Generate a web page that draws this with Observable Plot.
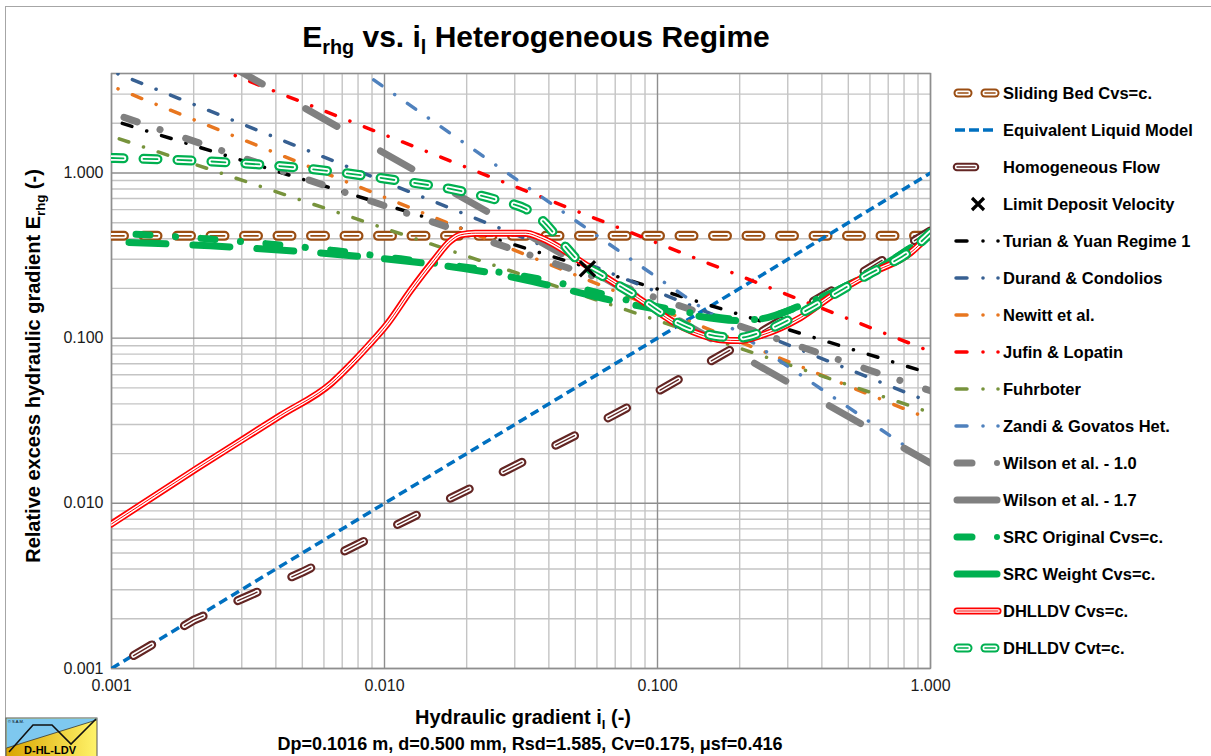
<!DOCTYPE html>
<html><head><meta charset="utf-8">
<script src="https://cdn.jsdelivr.net/npm/d3@7"></script>
<script src="https://cdn.jsdelivr.net/npm/@observablehq/plot@0.6"></script>
<style>
html,body{margin:0;padding:0;background:#fff;}
body{width:1211px;height:756px;overflow:hidden;position:relative;font-family:"Liberation Sans",Arial,sans-serif;color:#000;}
#border{position:absolute;left:5px;top:6px;width:1300px;height:800px;border:1.3px solid #a6a6a6;}
#chart{position:absolute;left:0;top:0;}
.lbl{position:absolute;font-weight:bold;white-space:nowrap;line-height:1;}
.title{left:0;width:1072px;top:22px;text-align:center;font-size:30px;}
.ylab{left:33px;top:366px;transform:translate(-50%,-50%) rotate(-90deg);font-size:20px;}
.xlab{left:523px;top:707px;transform:translateX(-50%);font-size:20px;}
.sub{left:530px;top:735px;transform:translateX(-50%);font-size:18px;}
sub{font-size:0.66em;vertical-align:-0.35em;line-height:0;}
#legend{position:absolute;left:0;top:0;}
</style>
</head><body>
<div id="border"></div>
<div id="chart"></div>
<div class="lbl title">E<sub>rhg</sub> vs. i<sub>l</sub> Heterogeneous Regime</div>
<div class="lbl ylab">Relative excess hydraulic gradient E<sub>rhg</sub> (-)</div>
<div class="lbl xlab">Hydraulic gradient i<sub>l</sub> (-)</div>
<div class="lbl sub">Dp=0.1016 m, d=0.500 mm, Rsd=1.585, Cv=0.175, μsf=0.416</div>
<script>
// ---------- tick values ----------
const xMajor = [0.001, 0.01, 0.1, 1];
const yMajor = [0.001, 0.01, 0.1, 1];
const xMinor = [0.002,0.003,0.004,0.005,0.006,0.007,0.008,0.009,0.02,0.03,0.04,0.05,0.06,0.07,0.08,0.09,0.2,0.3,0.4,0.5,0.6,0.7,0.8,0.9];
const yMinor = [0.002,0.003,0.004,0.005,0.006,0.007,0.008,0.009,0.02,0.03,0.04,0.05,0.06,0.07,0.08,0.09,0.2,0.3,0.4,0.5,0.6,0.7,0.8,0.9,2,3,4];

// ---------- series data ----------
const slidingX = [0.001, 1];
const slidingY = [0.416, 0.416];
const eqLiqX = [0.001, 1];
const eqLiqY = [0.001, 1];
const homX = [0.001, 0.002, 0.005, 0.01, 0.02, 0.05, 0.1, 0.2, 0.5, 1];
const homY = [0.001, 0.00196, 0.00383, 0.0068, 0.012, 0.0258, 0.0475, 0.0914, 0.222, 0.446];
const ldvX = [0.0554];
const ldvY = [0.263];
const turianX = [0.001, 1];
const turianY = [2.09, 0.061];
const durandX = [0.001, 1];
const durandY = [4.13, 0.0408];
const newittX = [0.001, 1];
const newittY = [3.35, 0.0322];
const jufinX = [0.001, 1];
const jufinY = [7.7, 0.083];
const fuhrX = [0.001, 1];
const fuhrY = [1.67, 0.0354];
const zandiX = [0.008, 0.1, 1];
const zandiY = [4.26, 0.232, 0.0175];
const wil10X = [0.001, 1];
const wil10Y = [2.3, 0.048];
const wil17X = [0.001, 1];
const wil17Y = [11.4, 0.0175];
const srcOrigX = [0.001, 0.00225, 0.00667, 0.01145, 0.02445, 0.0434, 0.0738, 0.1245, 0.2154, 0.2424, 0.334, 0.509, 0.714, 1.0];
const srcOrigY = [0.434, 0.399, 0.338, 0.302, 0.2557, 0.2164, 0.1732, 0.1446, 0.1294, 0.1312, 0.1572, 0.2135, 0.294, 0.428];
const srcWX = [0.001, 0.0023, 0.0069, 0.0117, 0.02445, 0.0406, 0.069, 0.1245, 0.201, 0.2424, 0.334, 0.509, 0.714, 1.0];
const srcWY = [0.383, 0.362, 0.320, 0.294, 0.2487, 0.2076, 0.1685, 0.1406, 0.1276, 0.1312, 0.1572, 0.2135, 0.294, 0.428];
const cvsX = [0.001, 0.00207, 0.00416, 0.0064, 0.0075, 0.00867, 0.01026, 0.01245, 0.01512, 0.01745, 0.019, 0.0215, 0.0329, 0.0373, 0.0568, 0.0845, 0.1245, 0.1474, 0.170, 0.201, 0.238, 0.334, 0.441, 0.588, 0.845, 1.0];
const cvsY = [0.0075, 0.0164, 0.0340, 0.0535, 0.0690, 0.0890, 0.1224, 0.1936, 0.294, 0.388, 0.422, 0.432, 0.432, 0.405, 0.2667, 0.1757, 0.1157, 0.1035, 0.0979, 0.0966, 0.1035, 0.1330, 0.1831, 0.2418, 0.329, 0.428];
const cvtX = [0.001, 0.00212, 0.00492, 0.01145, 0.01745, 0.0266, 0.0329, 0.0373, 0.0441, 0.0522, 0.0618, 0.0845, 0.1245, 0.170, 0.201, 0.238, 0.334, 0.441, 0.588, 0.845, 1.0];
const cvtY = [1.232, 1.182, 1.072, 0.895, 0.800, 0.677, 0.606, 0.527, 0.388, 0.286, 0.2418, 0.1781, 0.1190, 0.1021, 0.1007, 0.1080, 0.1406, 0.1831, 0.2418, 0.338, 0.434];

const legendNames = ["Sliding Bed Cvs=c.", "Equivalent Liquid Model", "Homogeneous Flow", "Limit Deposit Velocity",
  "Turian & Yuan Regime 1", "Durand & Condolios", "Newitt et al.", "Jufin & Lopatin", "Fuhrboter",
  "Zandi & Govatos Het.", "Wilson et al. - 1.0", "Wilson et al. - 1.7", "SRC Original Cvs=c.",
  "SRC Weight Cvs=c.", "DHLLDV Cvs=c.", "DHLLDV Cvt=c."];

// ---------- styles ----------
const C = {
  brown: "#9a4d12", eq: "#0070c0", hom: "#632523", black: "#000", durand: "#376092",
  newitt: "#e8761f", red: "#ff0000", fuhr: "#77933c", zandi: "#4f81bd", gray: "#808080", green: "#00b050"
};
const dashDot = "10,15.5,0.1,15.5";

function pts(xs, ys) { return xs.map((x, i) => ({x, y: ys[i]})); }
function line(data, stroke, w, dash, off = 0, cap = "round", curve = "linear") {
  return Plot.line(data, {x: "x", y: "y", stroke, strokeWidth: w, strokeDasharray: dash, strokeDashoffset: off,
    strokeLinecap: cap, strokeLinejoin: "round", curve, clip: true});
}
function triple(data, color, w1, w2, w3, dash, off = 0, curve = "linear") {
  return [line(data, color, w1, dash, off, "round", curve), line(data, "#fff", w2, dash, off, "round", curve), line(data, color, w3, dash, off, "round", curve)];
}

const fmt = d3.format(".3f");
const plot = Plot.plot({
  width: 1211, height: 756,
  marginLeft: 111, marginRight: 281, marginTop: 73, marginBottom: 88,
  x: {type: "log", domain: [0.001, 1]},
  y: {type: "log", domain: [0.001, 4]},
  style: {fontFamily: "Liberation Sans, Arial, sans-serif", fontSize: "16px", color: "#1a1a1a", background: "transparent", overflow: "visible"},
  marks: [
    Plot.ruleX(xMinor, {stroke: "#c4c4c4", strokeWidth: 1.4}),
    Plot.ruleY(yMinor, {stroke: "#c4c4c4", strokeWidth: 1.4}),
    Plot.ruleX(xMajor, {stroke: "#8e8e8e", strokeWidth: 1.4}),
    Plot.ruleY(yMajor, {stroke: "#8e8e8e", strokeWidth: 1.4}),
    Plot.frame({stroke: "#8e8e8e", strokeWidth: 1.4}),
    Plot.axisX({ticks: xMajor, tickFormat: fmt, tickSize: 0, tickPadding: 11, label: null, fontSize: 16}),
    Plot.axisY({ticks: yMajor, tickFormat: fmt, tickSize: 0, tickPadding: 8, label: null, fontSize: 16}),
    ...triple(pts(slidingX, slidingY), C.brown, 10, 5.5, 1.8, "14,19.5", 1.5),
    line(pts(eqLiqX, eqLiqY), C.eq, 3.5, "9,5", 0, "butt"),
    ...triple(pts(homX, homY), C.hom, 9, 4.6, 1.4, "21,38", 33.4),
    line(pts(turianX, turianY), C.black, 3.5, dashDot, 29.8),
    line(pts(durandX, durandY), C.durand, 3.5, dashDot, 18.6),
    line(pts(newittX, newittY), C.newitt, 3.5, dashDot, 18.5),
    line(pts(jufinX, jufinY), C.red, 3.5, dashDot, 15.7),
    line(pts(fuhrX, fuhrY), C.fuhr, 3.5, dashDot, 32.9),
    line(pts(zandiX, zandiY), C.zandi, 3.5, dashDot, 22),
    line(pts(wil10X, wil10Y), C.gray, 7, "14,24,0.1,27", 51.9),
    line(pts(wil17X, wil17Y), C.gray, 7, "36,50", 34.7),
    line(pts(srcOrigX, srcOrigY), C.green, 7, "14,25.5,0.1,25.5", 40.5, "round", "monotone-x"),
    line(pts(srcWX, srcWY), C.green, 7, "37,27", 46.5, "round", "monotone-x"),
    ...triple(pts(cvsX, cvsY), C.red, 7, 3.6, 1.0, null, 0, "monotone-x"),
    ...triple(pts(cvtX, cvtY), C.green, 10, 5.5, 1.8, "14,20", 2, "monotone-x"),
    Plot.dot(pts(ldvX, ldvY), {x: "x", y: "y", symbol: "times", r: 7, stroke: "#000", strokeWidth: 3.2})
  ]
});
document.getElementById("chart").appendChild(plot);

// ---------- legend ----------
const svg = d3.select("body").append("svg").attr("id", "legend").attr("width", 1211).attr("height", 756);
const rowY = i => 93 + i * 37;
function seg(g, x1, x2, y, color, w, dash, cap = "round") {
  g.append("line").attr("x1", x1).attr("x2", x2).attr("y1", y).attr("y2", y)
    .attr("stroke", color).attr("stroke-width", w).attr("stroke-linecap", cap)
    .attr("stroke-dasharray", dash || null);
}
function tri(g, x1, x2, y, color, w1, w2, w3) {
  seg(g, x1, x2, y, color, w1); seg(g, x1, x2, y, "#fff", w2); seg(g, x1, x2, y, color, w3);
}
function dot(g, x, y, color, r) { g.append("circle").attr("cx", x).attr("cy", y).attr("r", r).attr("fill", color); }
function dashDotSym(g, y, color) { seg(g, 956, 967, y, color, 3.5); dot(g, 983, y, color, 1.8); dot(g, 998, y, color, 1.8); }
const drawers = [
  (g, y) => { tri(g, 958, 968, y, C.brown, 9, 5, 1.6); tri(g, 985, 995, y, C.brown, 9, 5, 1.6); },
  (g, y) => seg(g, 955, 997, y, C.eq, 3.5, "10,4", "butt"),
  (g, y) => tri(g, 957, 975, y, C.hom, 8.5, 4.4, 1.3),
  (g, y) => g.append("path").attr("d", `M${972},${y-6}L${984},${y+6}M${972},${y+6}L${984},${y-6}`).attr("stroke", "#000").attr("stroke-width", 3.2),
  (g, y) => dashDotSym(g, y, C.black),
  (g, y) => dashDotSym(g, y, C.durand),
  (g, y) => dashDotSym(g, y, C.newitt),
  (g, y) => dashDotSym(g, y, C.red),
  (g, y) => dashDotSym(g, y, C.fuhr),
  (g, y) => dashDotSym(g, y, C.zandi),
  (g, y) => { seg(g, 957, 972, y, C.gray, 7); dot(g, 997, y, C.gray, 3); },
  (g, y) => seg(g, 957, 997, y, C.gray, 7),
  (g, y) => { seg(g, 957, 972, y, C.green, 7); dot(g, 997, y, C.green, 3); },
  (g, y) => seg(g, 957, 997, y, C.green, 7),
  (g, y) => tri(g, 957, 998, y, C.red, 7, 3.6, 1.0),
  (g, y) => { tri(g, 958, 968, y, C.green, 9, 5, 1.6); tri(g, 985, 995, y, C.green, 9, 5, 1.6); }
];
legendNames.forEach((name, i) => {
  const g = svg.append("g");
  const y = rowY(i);
  drawers[i](g, y);
  g.append("text").attr("x", 1003).attr("y", y).attr("dy", "0.36em")
    .attr("font-family", "Liberation Sans, Arial, sans-serif").attr("font-weight", "bold").attr("font-size", 16.5)
    .text(name);
});

// ---------- logo ----------
const lg = svg.append("g");
const defs = svg.append("defs");
const grad = defs.append("linearGradient").attr("id", "yel").attr("x1", 0).attr("x2", 1).attr("y1", 0).attr("y2", 0);
grad.append("stop").attr("offset", 0).attr("stop-color", "#d9a400");
grad.append("stop").attr("offset", 1).attr("stop-color", "#fff36a");
lg.append("rect").attr("x", 6).attr("y", 718).attr("width", 91).attr("height", 40).attr("fill", "url(#yel)").attr("stroke", "#555").attr("stroke-width", 1);
lg.append("path").attr("d", "M6.5,718.5L96.5,718.5L96.5,720L6.5,748Z").attr("fill", "#7ec8ef");
lg.append("path").attr("d", "M6.5,748L96.5,720").attr("stroke", "#333").attr("stroke-width", 0.8).attr("fill", "none");
lg.append("path").attr("d", "M9,752L33,725L52,725L71,744L96,719").attr("stroke", "#111").attr("stroke-width", 1.6).attr("fill", "none");
lg.append("text").attr("x", 8).attr("y", 723).attr("font-size", 4).attr("font-family", "Liberation Sans, Arial").text("© S.A.M.");
lg.append("text").attr("x", 50).attr("y", 754).attr("text-anchor", "middle").attr("font-size", 11).attr("font-weight", "bold")
  .attr("font-family", "Liberation Sans, Arial").text("D-HL-LDV");
</script>
</body></html>
